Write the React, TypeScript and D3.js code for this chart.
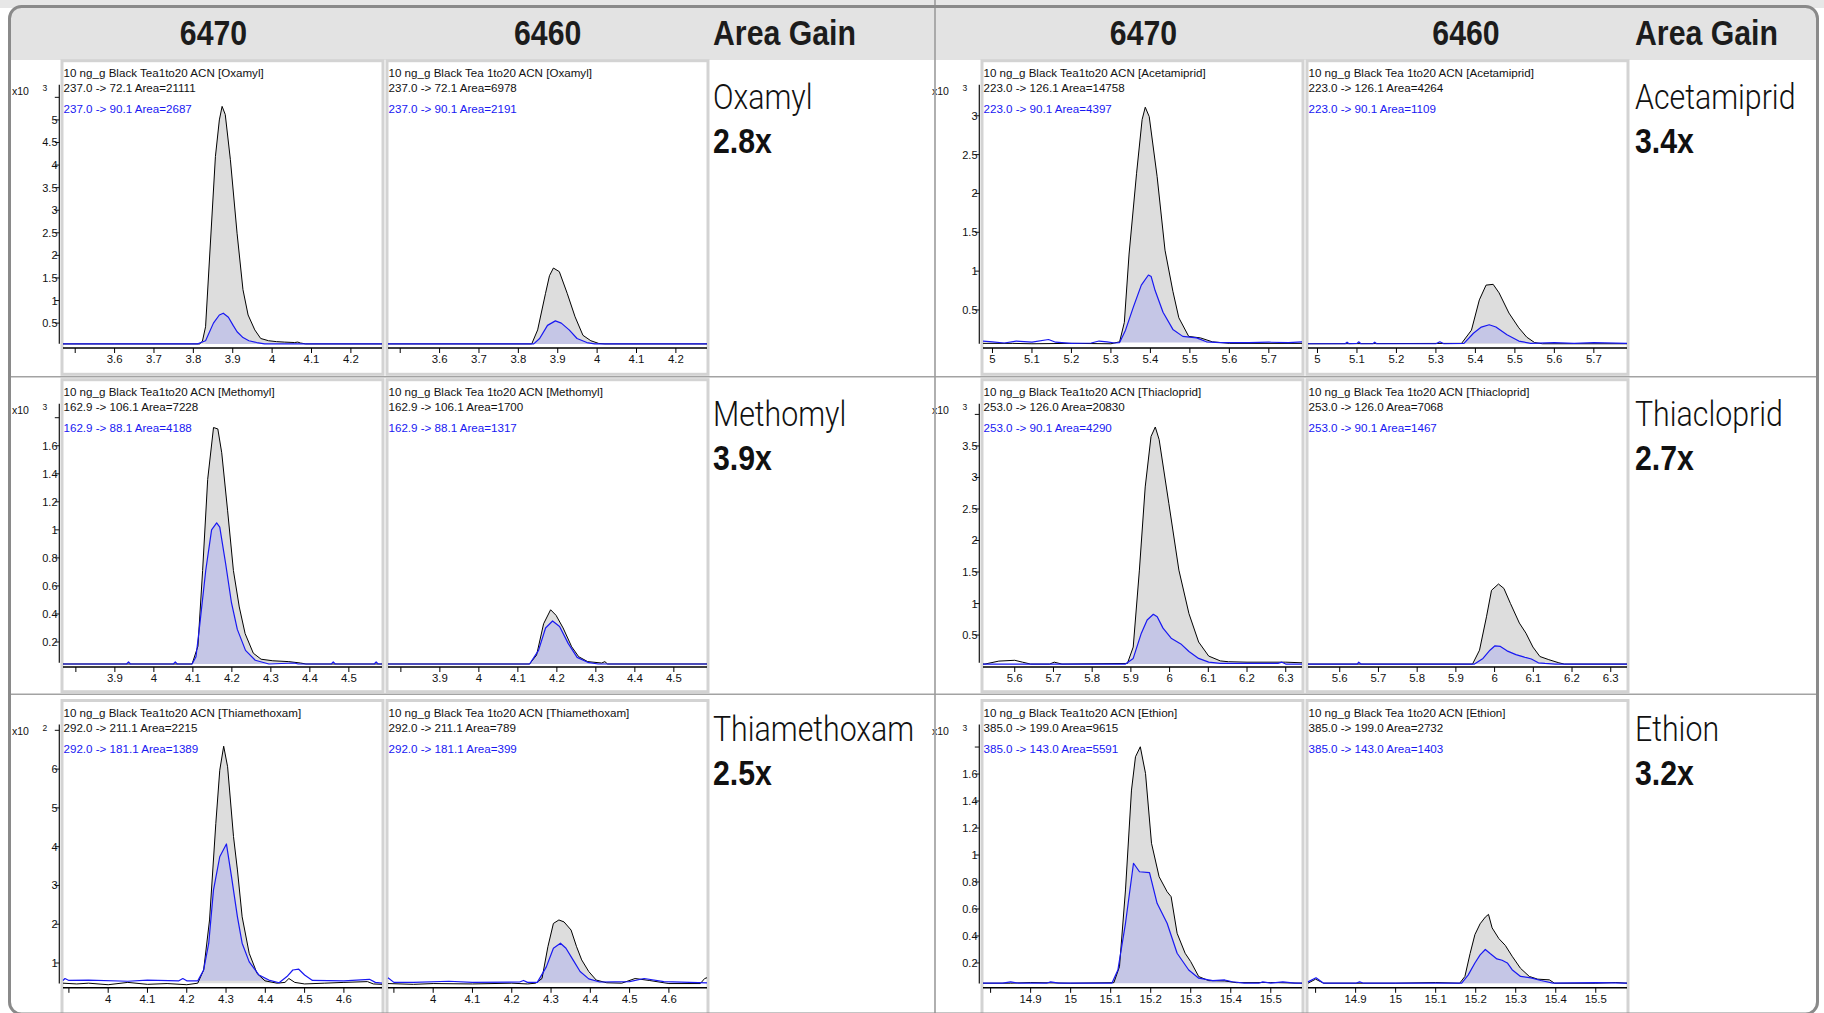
import React from 'react';
import * as d3 from 'd3';

type Pt = [number, number];

// ---------------- DATA ----------------
const instruments = ['6470', '6460'];
const compounds = ['Oxamyl', 'Methomyl', 'Thiamethoxam', 'Acetamiprid', 'Thiacloprid', 'Ethion'];
const areaGains = ['2.8x', '3.9x', '2.5x', '3.4x', '2.7x', '3.2x'];
const sampleNames = ['10 ng_g Black Tea1to20 ACN', '10 ng_g Black Tea 1to20 ACN'];
const quantTransitions = ['237.0 -> 72.1', '162.9 -> 106.1', '292.0 -> 211.1', '223.0 -> 126.1', '253.0 -> 126.0', '385.0 -> 199.0'];
const qualTransitions = ['237.0 -> 90.1', '162.9 -> 88.1', '292.0 -> 181.1', '223.0 -> 90.1', '253.0 -> 90.1', '385.0 -> 143.0'];
const quantAreas6470 = [21111, 7228, 2215, 14758, 20830, 9615];
const qualAreas6470 = [2687, 4188, 1389, 4397, 4290, 5591];
const quantAreas6460 = [6978, 1700, 789, 4264, 7068, 2732];
const qualAreas6460 = [2191, 1317, 399, 1109, 1467, 1403];
const yExponents = [3, 3, 2, 3, 3, 3];

const yDomains: Pt[] = [[0, 5.78], [0.038, 1.9], [0.42, 7.15], [0.04, 3.4], [0.03, 4.17], [0.033, 1.967]];
const yTickValues: number[][] = [
  [0.5, 1, 1.5, 2, 2.5, 3, 3.5, 4, 4.5, 5, 5.5],
  [0.2, 0.4, 0.6, 0.8, 1, 1.2, 1.4, 1.6, 1.8],
  [1, 2, 3, 4, 5, 6, 7],
  [0.5, 1, 1.5, 2, 2.5, 3],
  [0.5, 1, 1.5, 2, 2.5, 3, 3.5, 4],
  [0.2, 0.4, 0.6, 0.8, 1, 1.2, 1.4, 1.6, 1.8],
];
const yTopTickUnlabeled = [true, true, true, false, true, true];

const xDomains: Pt[] = [[3.469, 4.279], [3.767, 4.585], [3.885, 4.697], [4.976, 5.784], [5.518, 6.342], [14.781, 15.578]];
const xTickValues: number[][] = [
  [3.5, 3.6, 3.7, 3.8, 3.9, 4, 4.1, 4.2],
  [3.8, 3.9, 4, 4.1, 4.2, 4.3, 4.4, 4.5],
  [3.9, 4, 4.1, 4.2, 4.3, 4.4, 4.5, 4.6],
  [5, 5.1, 5.2, 5.3, 5.4, 5.5, 5.6, 5.7],
  [5.6, 5.7, 5.8, 5.9, 6, 6.1, 6.2, 6.3],
  [14.8, 14.9, 15, 15.1, 15.2, 15.3, 15.4, 15.5],
];
const xFirstTickUnlabeled = [true, true, true, false, false, true];

const peakWindows6470: Pt[] = [[3.816, 4.085], [4.098, 4.39], [4.228, 4.43], [5.322, 5.577], [5.886, 6.152], [15.103, 15.414]];
const peakWindows6460: Pt[] = [[3.834, 4.02], [4.13, 4.33], [4.261, 4.442], [5.365, 5.57], [5.943, 6.18], [15.16, 15.397]];

// ---- traces (retention time [min], counts in x10^exp) ----
const oxamyl6470Quant: Pt[] = [[3.469,0.04],[3.6,0.04],[3.816,0.04],[3.823,0.1],[3.831,0.42],[3.856,4.19],[3.866,5.0],[3.873,5.3],[3.881,5.12],[3.894,4.12],[3.911,2.49],[3.926,1.24],[3.939,0.68],[3.956,0.35],[3.971,0.16],[3.991,0.11],[4.011,0.09],[4.031,0.08],[4.057,0.07],[4.065,0.08],[4.072,0.06],[4.085,0.04],[4.279,0.04]];
const oxamyl6470Qual: Pt[] = [[3.469,0.04],[3.811,0.04],[3.831,0.11],[3.851,0.5],[3.866,0.68],[3.876,0.72],[3.889,0.63],[3.901,0.45],[3.911,0.31],[3.926,0.18],[3.941,0.11],[3.961,0.07],[3.981,0.04],[4.279,0.04]];
const oxamyl6460Quant: Pt[] = [[3.469,0.04],[3.834,0.04],[3.849,0.35],[3.869,1.16],[3.879,1.55],[3.889,1.72],[3.904,1.64],[3.924,1.16],[3.944,0.64],[3.964,0.23],[3.984,0.11],[4.004,0.05],[4.02,0.04],[4.279,0.04]];
const oxamyl6460Qual: Pt[] = [[3.469,0.04],[3.839,0.04],[3.854,0.16],[3.874,0.45],[3.894,0.55],[3.909,0.5],[3.929,0.35],[3.949,0.16],[3.974,0.07],[3.994,0.04],[4.279,0.04]];

const methomyl6470Quant: Pt[] = [[3.767,0.043],[4.098,0.043],[4.113,0.17],[4.125,0.71],[4.138,1.36],[4.153,1.73],[4.164,1.72],[4.174,1.55],[4.189,1.14],[4.204,0.71],[4.219,0.45],[4.234,0.26],[4.255,0.12],[4.275,0.077],[4.305,0.066],[4.346,0.06],[4.376,0.05],[4.39,0.043],[4.585,0.043]];
const methomyl6470Qual: Pt[] = [[3.767,0.043],[3.93,0.043],[3.935,0.058],[3.94,0.043],[4.05,0.043],[4.055,0.058],[4.06,0.043],[4.098,0.043],[4.108,0.095],[4.118,0.33],[4.133,0.71],[4.148,1.0],[4.161,1.05],[4.169,1.02],[4.184,0.76],[4.199,0.48],[4.214,0.29],[4.235,0.14],[4.26,0.07],[4.295,0.043],[4.36,0.05],[4.37,0.043],[4.455,0.043],[4.46,0.058],[4.465,0.043],[4.565,0.043],[4.57,0.058],[4.575,0.043],[4.585,0.043]];
const methomyl6460Quant: Pt[] = [[3.767,0.043],[4.13,0.043],[4.148,0.107],[4.166,0.33],[4.184,0.43],[4.198,0.39],[4.216,0.3],[4.238,0.166],[4.256,0.095],[4.279,0.06],[4.315,0.05],[4.323,0.06],[4.33,0.043],[4.585,0.043]];
const methomyl6460Qual: Pt[] = [[3.767,0.043],[4.13,0.043],[4.153,0.14],[4.171,0.3],[4.189,0.35],[4.207,0.31],[4.229,0.19],[4.252,0.09],[4.279,0.055],[4.306,0.043],[4.585,0.043]];

const thiamethoxam6470Quant: Pt[] = [[3.885,0.48],[3.92,0.46],[3.95,0.48],[4.0,0.44],[4.05,0.5],[4.1,0.45],[4.15,0.47],[4.2,0.44],[4.228,0.48],[4.243,0.82],[4.258,2.11],[4.274,4.6],[4.284,5.97],[4.294,6.59],[4.304,6.06],[4.309,5.46],[4.319,4.26],[4.329,3.4],[4.341,2.19],[4.359,1.25],[4.379,0.73],[4.399,0.54],[4.43,0.48],[4.45,0.5],[4.46,0.6],[4.475,0.5],[4.5,0.46],[4.55,0.48],[4.6,0.5],[4.66,0.52],[4.675,0.46],[4.697,0.45]];
const thiamethoxam6470Qual: Pt[] = [[3.885,0.55],[3.89,0.6],[3.9,0.55],[3.95,0.56],[4.05,0.53],[4.1,0.56],[4.18,0.54],[4.19,0.6],[4.2,0.54],[4.228,0.54],[4.243,0.82],[4.256,1.51],[4.268,2.88],[4.284,3.74],[4.301,4.07],[4.314,3.22],[4.329,2.19],[4.341,1.51],[4.359,1.03],[4.384,0.69],[4.409,0.56],[4.435,0.49],[4.455,0.65],[4.47,0.82],[4.485,0.84],[4.5,0.69],[4.52,0.55],[4.6,0.54],[4.665,0.58],[4.68,0.5],[4.697,0.48]];
const thiamethoxam6460Quant: Pt[] = [[3.885,0.47],[3.95,0.45],[4.0,0.47],[4.1,0.46],[4.2,0.48],[4.24,0.46],[4.261,0.48],[4.277,0.6],[4.292,1.42],[4.306,2.02],[4.32,2.11],[4.333,2.06],[4.351,1.85],[4.365,1.42],[4.378,1.08],[4.396,0.78],[4.415,0.56],[4.442,0.49],[4.48,0.48],[4.514,0.6],[4.55,0.55],[4.6,0.47],[4.68,0.47],[4.691,0.6],[4.697,0.62]];
const thiamethoxam6460Qual: Pt[] = [[3.885,0.62],[3.9,0.5],[3.95,0.5],[4.04,0.53],[4.1,0.5],[4.22,0.51],[4.23,0.55],[4.24,0.5],[4.265,0.5],[4.288,0.9],[4.306,1.38],[4.324,1.51],[4.338,1.38],[4.356,1.08],[4.374,0.78],[4.396,0.59],[4.424,0.51],[4.5,0.52],[4.537,0.6],[4.587,0.52],[4.697,0.49]];

const acetamiprid6470Quant: Pt[] = [[4.976,0.07],[5.05,0.07],[5.1,0.065],[5.2,0.07],[5.3,0.065],[5.322,0.09],[5.334,0.34],[5.346,1.22],[5.365,2.26],[5.379,2.95],[5.387,3.11],[5.397,2.99],[5.417,2.22],[5.437,1.27],[5.457,0.74],[5.472,0.4],[5.497,0.16],[5.527,0.14],[5.557,0.09],[5.6,0.07],[5.784,0.07]];
const acetamiprid6470Qual: Pt[] = [[4.976,0.1],[5.0,0.09],[5.03,0.075],[5.06,0.1],[5.1,0.085],[5.142,0.12],[5.16,0.085],[5.2,0.07],[5.25,0.075],[5.27,0.1],[5.29,0.09],[5.31,0.075],[5.322,0.08],[5.337,0.24],[5.357,0.54],[5.377,0.82],[5.395,0.95],[5.402,0.93],[5.412,0.75],[5.432,0.47],[5.457,0.25],[5.482,0.16],[5.517,0.14],[5.542,0.09],[5.577,0.08],[5.65,0.08],[5.7,0.085],[5.75,0.08],[5.784,0.09]];
const acetamiprid6460Quant: Pt[] = [[4.976,0.065],[5.365,0.07],[5.39,0.24],[5.41,0.63],[5.427,0.82],[5.445,0.83],[5.46,0.72],[5.485,0.46],[5.51,0.27],[5.53,0.15],[5.55,0.08],[5.57,0.065],[5.784,0.065]];
const acetamiprid6460Qual: Pt[] = [[4.976,0.065],[5.07,0.065],[5.075,0.085],[5.08,0.065],[5.1,0.07],[5.105,0.09],[5.11,0.065],[5.14,0.065],[5.145,0.085],[5.15,0.065],[5.3,0.065],[5.31,0.09],[5.32,0.065],[5.371,0.07],[5.395,0.2],[5.415,0.28],[5.435,0.31],[5.452,0.28],[5.48,0.18],[5.51,0.1],[5.54,0.07],[5.6,0.08],[5.65,0.07],[5.7,0.08],[5.784,0.07]];

const thiacloprid6470Quant: Pt[] = [[5.518,0.04],[5.523,0.04],[5.559,0.087],[5.6,0.1],[5.62,0.07],[5.641,0.04],[5.69,0.04],[5.702,0.07],[5.722,0.04],[5.891,0.05],[5.906,0.31],[5.922,1.53],[5.937,2.85],[5.952,3.65],[5.963,3.8],[5.973,3.6],[5.998,2.59],[6.024,1.53],[6.05,0.84],[6.075,0.39],[6.101,0.167],[6.131,0.09],[6.152,0.077],[6.2,0.07],[6.3,0.07],[6.342,0.06]];
const thiacloprid6470Qual: Pt[] = [[5.518,0.04],[5.886,0.04],[5.906,0.13],[5.927,0.53],[5.942,0.74],[5.958,0.83],[5.968,0.79],[5.983,0.61],[6.004,0.45],[6.029,0.36],[6.05,0.24],[6.075,0.13],[6.101,0.07],[6.131,0.05],[6.28,0.05],[6.29,0.07],[6.3,0.04],[6.342,0.04]];
const thiacloprid6460Quant: Pt[] = [[5.518,0.04],[5.943,0.04],[5.961,0.26],[5.979,0.79],[5.992,1.21],[6.01,1.31],[6.024,1.24],[6.041,1.0],[6.064,0.69],[6.081,0.53],[6.099,0.31],[6.117,0.16],[6.14,0.11],[6.166,0.06],[6.18,0.04],[6.342,0.04]];
const thiacloprid6460Qual: Pt[] = [[5.518,0.04],[5.645,0.04],[5.649,0.07],[5.655,0.04],[5.948,0.04],[5.97,0.13],[5.988,0.26],[6.001,0.33],[6.015,0.32],[6.032,0.25],[6.055,0.19],[6.077,0.15],[6.095,0.12],[6.113,0.06],[6.13,0.05],[6.157,0.04],[6.342,0.04]];

const ethion6470Quant: Pt[] = [[14.781,0.05],[14.85,0.05],[14.9,0.055],[15.0,0.05],[15.108,0.054],[15.122,0.173],[15.137,0.741],[15.152,1.481],[15.162,1.728],[15.174,1.802],[15.187,1.605],[15.202,1.087],[15.221,0.839],[15.241,0.728],[15.251,0.691],[15.266,0.42],[15.286,0.272],[15.3,0.21],[15.32,0.099],[15.345,0.069],[15.385,0.067],[15.414,0.054],[15.5,0.055],[15.578,0.05]];
const ethion6470Qual: Pt[] = [[14.781,0.05],[14.83,0.05],[14.85,0.06],[14.87,0.05],[14.94,0.05],[14.95,0.06],[14.97,0.05],[15.103,0.05],[15.118,0.148],[15.137,0.494],[15.157,0.939],[15.172,0.876],[15.197,0.869],[15.216,0.642],[15.241,0.494],[15.266,0.272],[15.295,0.148],[15.32,0.087],[15.355,0.069],[15.385,0.074],[15.404,0.061],[15.434,0.05],[15.47,0.05],[15.48,0.06],[15.5,0.05],[15.53,0.06],[15.56,0.05],[15.578,0.05]];
const ethion6460Quant: Pt[] = [[14.781,0.05],[14.8,0.08],[14.82,0.05],[15.0,0.05],[15.1,0.055],[15.16,0.05],[15.173,0.1],[15.186,0.27],[15.198,0.41],[15.211,0.49],[15.224,0.54],[15.232,0.56],[15.241,0.46],[15.258,0.38],[15.274,0.33],[15.291,0.25],[15.312,0.16],[15.334,0.1],[15.355,0.08],[15.384,0.075],[15.397,0.05],[15.5,0.05],[15.55,0.055],[15.578,0.05]];
const ethion6460Qual: Pt[] = [[14.781,0.06],[14.801,0.09],[14.82,0.05],[14.9,0.05],[14.91,0.06],[14.92,0.05],[15.165,0.05],[15.181,0.11],[15.198,0.2],[15.211,0.26],[15.224,0.3],[15.236,0.27],[15.253,0.23],[15.266,0.22],[15.279,0.2],[15.291,0.15],[15.312,0.1],[15.338,0.09],[15.363,0.07],[15.393,0.05],[15.5,0.055],[15.578,0.05]];

const quantTraces6470 = [oxamyl6470Quant, methomyl6470Quant, thiamethoxam6470Quant, acetamiprid6470Quant, thiacloprid6470Quant, ethion6470Quant];
const qualTraces6470 = [oxamyl6470Qual, methomyl6470Qual, thiamethoxam6470Qual, acetamiprid6470Qual, thiacloprid6470Qual, ethion6470Qual];
const quantTraces6460 = [oxamyl6460Quant, methomyl6460Quant, thiamethoxam6460Quant, acetamiprid6460Quant, thiacloprid6460Quant, ethion6460Quant];
const qualTraces6460 = [oxamyl6460Qual, methomyl6460Qual, thiamethoxam6460Qual, acetamiprid6460Qual, thiacloprid6460Qual, ethion6460Qual];

// ---------------- LAYOUT / STYLE ----------------
const W = 1824;
const H = 1013;
const halfX = [0, 920];
const rowRectY = [60.7, 379.7, 700.5];
const rowRectH = [313.6, 312, 314];
const nameBaseY = [108.5, 425.5, 740.5];
const gainBaseY = [153, 469.5, 784.5];
const headerCenters = [[213.5, 547.7], [1143.5, 1466]];
const gainX = [713, 1635];
const SANS = 'Liberation Sans, Arial, Helvetica, sans-serif';
const LIGHT = 'Roboto, Liberation Sans, Arial, sans-serif';
const BLUE = '#1818f2';
const GRAY_FILL = '#dddddd';
const BLUE_FILL = '#c5c6e6';
const COND = 0.865;
const COND_LIGHT = 0.866;

function Chromatogram({ ci, k }: { ci: number; k: number }) {
  const half = ci < 3 ? 0 : 1;
  const row = ci % 3;
  const rx = 62 + halfX[half] + k * 325;
  const ry = rowRectY[row];
  const x = d3.scaleLinear().domain(xDomains[ci]).range([rx + 1, rx + 320]);
  const y = d3.scaleLinear().domain(yDomains[ci]).range([ry + 285, ry + 24]);
  const quant = k === 0 ? quantTraces6470[ci] : quantTraces6460[ci];
  const qual = k === 0 ? qualTraces6470[ci] : qualTraces6460[ci];
  const win = k === 0 ? peakWindows6470[ci] : peakWindows6460[ci];
  const quantArea = k === 0 ? quantAreas6470[ci] : quantAreas6460[ci];
  const qualArea = k === 0 ? qualAreas6470[ci] : qualAreas6460[ci];

  const line = d3.line<Pt>().x(d => x(d[0])).y(d => y(d[1]));
  const areaPath = (pts: Pt[]) => {
    const sel = pts.filter(p => p[0] >= win[0] && p[0] <= win[1]);
    if (sel.length < 2) return '';
    const base = Math.min(sel[0][1], sel[sel.length - 1][1]);
    return d3.area<Pt>().x(d => x(d[0])).y0(y(base)).y1(d => y(d[1]))(sel) || '';
  };

  const axisY = ry + 287.3;
  const yAxisX = rx - 2.7;
  const yt = yTickValues[ci];
  const xt = xTickValues[ci];

  return (
    <g>
      <rect x={rx} y={ry} width={321} height={rowRectH[row]} fill="#fff" stroke="#d3d3d3" strokeWidth={3} />
      <path d={areaPath(quant)} fill={GRAY_FILL} />
      <path d={areaPath(qual)} fill={BLUE_FILL} />
      <path d={line(quant) || ''} fill="none" stroke="#000" strokeWidth={1} strokeLinejoin="round" />
      <path d={line(qual) || ''} fill="none" stroke={BLUE} strokeWidth={1.2} strokeLinejoin="round" />
      <g fontFamily={SANS} fontSize={11.6}>
        <text x={rx + 1.5} y={ry + 16.3} fill="#111">{`${sampleNames[k]} [${compounds[ci]}]`}</text>
        <text x={rx + 1.5} y={ry + 31.5} fill="#111">{`${quantTransitions[ci]} Area=${quantArea}`}</text>
        <text x={rx + 1.5} y={ry + 52.4} fill={BLUE}>{`${qualTransitions[ci]} Area=${qualArea}`}</text>
      </g>
      <line x1={rx + 1} x2={rx + 320} y1={axisY} y2={axisY} stroke="#000" strokeWidth={1.4} />
      {xt.map((v, i) => (
        <g key={i}>
          <line x1={x(v)} x2={x(v)} y1={axisY} y2={axisY + 5} stroke="#000" strokeWidth={1} />
          {!(i === 0 && xFirstTickUnlabeled[ci]) && (
            <text x={x(v)} y={ry + 302} textAnchor="middle" fontFamily={SANS} fontSize={11.4} fill="#111">{String(v)}</text>
          )}
        </g>
      ))}
      {k === 0 && (
        <g>
          <line x1={yAxisX} x2={yAxisX} y1={ry + 24} y2={ry + 283} stroke="#111" strokeWidth={1.2} />
          {yt.map((v, i) => (
            <g key={i}>
              <line x1={yAxisX - 4.5} x2={yAxisX} y1={y(v)} y2={y(v)} stroke="#111" strokeWidth={1} />
              {!(i === yt.length - 1 && yTopTickUnlabeled[ci]) && (
                <text x={yAxisX - 1.8} y={y(v)} dy="0.36em" textAnchor="end" fontFamily={SANS} fontSize={11} fill="#111">{String(v)}</text>
              )}
            </g>
          ))}
          <text x={halfX[half] + 12} y={ry + 34.3} fontFamily={SANS} fontSize={10.5} fill="#111">x10</text>
          <text x={halfX[half] + 42.5} y={ry + 30.3} fontFamily={SANS} fontSize={8.5} fill="#111">{String(yExponents[ci])}</text>
        </g>
      )}
    </g>
  );
}

export default function App() {
  return (
    <svg width={W} height={H} viewBox={`0 0 ${W} ${H}`} style={{ position: 'absolute', left: 0, top: 0, display: 'block', background: '#fff' }}>
      <defs>
        <clipPath id="frameClip">
          <rect x={9.5} y={6.5} width={1808} height={1007.5} rx={12} />
        </clipPath>
      </defs>
      <rect x={0} y={0} width={W} height={H} fill="#fff" />
      <rect x={0} y={0} width={W} height={8} fill="#e7e7e7" />
      <g clipPath="url(#frameClip)">
        <rect x={9.5} y={6.5} width={1808} height={53.5} fill="#e3e3e3" />
      </g>
      {[376.7, 694.3].map((yy, i) => (
        <line key={i} x1={11} x2={1816} y1={yy} y2={yy} stroke="#a3a3a3" strokeWidth={1.6} />
      ))}
      {compounds.map((_, ci) => (
        <g key={ci}>
          <Chromatogram ci={ci} k={0} />
          <Chromatogram ci={ci} k={1} />
        </g>
      ))}
      <line x1={935} x2={935} y1={0} y2={H} stroke="#9c9c9c" strokeWidth={1.6} />
      {[0, 1].map(h => (
        <g key={h} fontFamily={SANS} fontWeight="bold" fontSize={35} fill="#1c1c1c">
          {instruments.map((ins, k) => (
            <text key={k} transform={`translate(${headerCenters[h][k]},45) scale(${COND},1)`} textAnchor="middle">{ins}</text>
          ))}
          <text transform={`translate(${gainX[h]},45) scale(${COND},1)`}>Area Gain</text>
        </g>
      ))}
      {compounds.map((c, ci) => {
        const half = ci < 3 ? 0 : 1;
        const row = ci % 3;
        return (
          <g key={ci} fontSize={35} fill="#111">
            <text transform={`translate(${gainX[half]},${nameBaseY[row]}) scale(${COND_LIGHT},1)`} fontFamily={LIGHT} fontWeight={300}>{c}</text>
            <text transform={`translate(${gainX[half]},${gainBaseY[row]}) scale(${COND},1)`} fontFamily={SANS} fontWeight="bold">{areaGains[ci]}</text>
          </g>
        );
      })}
      <rect x={9.5} y={6.5} width={1808} height={1007.5} rx={12} fill="none" stroke="#8a8a8a" strokeWidth={3} />
    </svg>
  );
}
